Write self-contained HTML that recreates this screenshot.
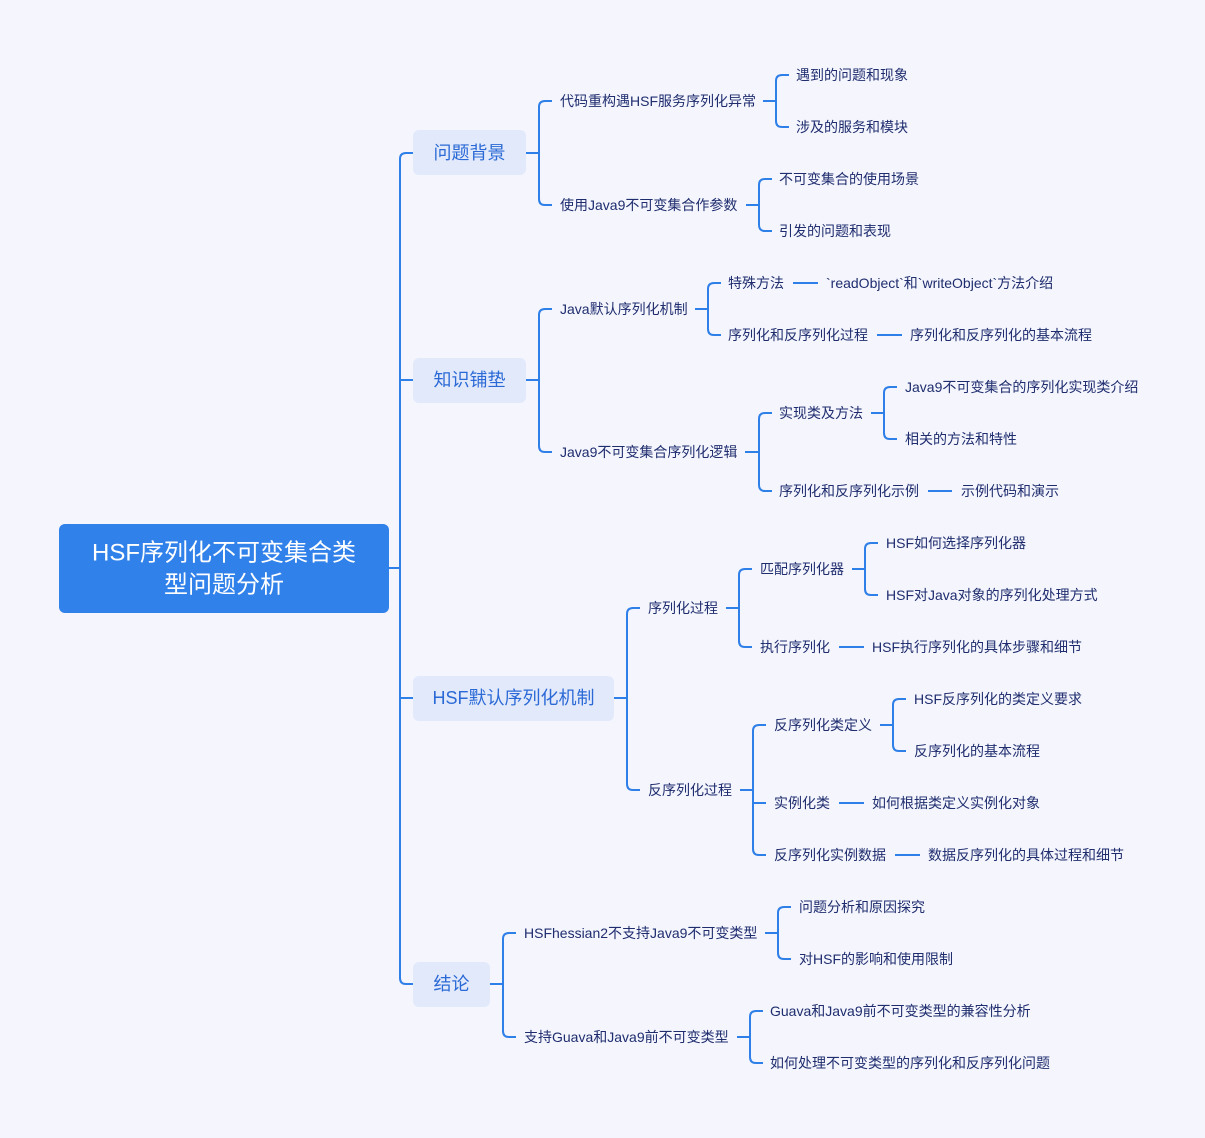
<!DOCTYPE html>
<html><head><meta charset="utf-8"><style>
html,body{margin:0;padding:0;background:#f4f5fd;}
svg{display:block;font-family:"Liberation Sans","Noto Sans CJK SC",sans-serif;}
.t{font-size:14px;fill:#1f2d6e;dominant-baseline:central;}
.l1{font-size:18px;fill:#2b6ad6;dominant-baseline:central;text-anchor:middle;}
path,line{stroke:#2f7fe8;stroke-width:2;fill:none;}
</style></head><body>
<svg width="1205" height="1138" viewBox="0 0 1205 1138">
<rect x="0" y="0" width="1205" height="1138" fill="#f4f5fd"/>
<!-- root -->
<rect x="59" y="524" width="330" height="89" rx="6" fill="#3181ea"/>
<text x="224" y="553" font-size="24" fill="#fff" text-anchor="middle" dominant-baseline="central">HSF序列化不可变集合类</text>
<text x="224" y="585" font-size="24" fill="#fff" text-anchor="middle" dominant-baseline="central">型问题分析</text>
<!-- trunk -->
<line x1="389" y1="568" x2="400" y2="568"/>
<path d="M413,153 H406 Q400,153 400,159 V978 Q400,984 406,984 H413"/>
<line x1="400" y1="380" x2="413" y2="380"/>
<line x1="400" y1="698" x2="413" y2="698"/>
<!-- level1 boxes -->
<rect x="413" y="130" width="113" height="45" rx="6" fill="#e2e9fb"/>
<text class="l1" x="469.5" y="153">问题背景</text>
<rect x="413" y="358" width="113" height="45" rx="6" fill="#e2e9fb"/>
<text class="l1" x="469.5" y="380">知识铺垫</text>
<rect x="413" y="676" width="201" height="45" rx="6" fill="#e2e9fb"/>
<text class="l1" x="513.5" y="698">HSF默认序列化机制</text>
<rect x="413" y="962" width="77" height="45" rx="6" fill="#e2e9fb"/>
<text class="l1" x="451.5" y="984">结论</text>

<!-- 问题背景 -->
<line x1="526" y1="153" x2="539" y2="153"/>
<path d="M552,101 H545 Q539,101 539,107 V199 Q539,205 545,205 H552"/>
<text class="t" x="560" y="101">代码重构遇HSF服务序列化异常</text>
<text class="t" x="560" y="205">使用Java9不可变集合作参数</text>
<line x1="763" y1="101" x2="776" y2="101"/>
<path d="M789,75 H782 Q776,75 776,81 V121 Q776,127 782,127 H789"/>
<text class="t" x="796" y="75">遇到的问题和现象</text>
<text class="t" x="796" y="127">涉及的服务和模块</text>
<line x1="746" y1="205" x2="759" y2="205"/>
<path d="M772,179 H765 Q759,179 759,185 V225 Q759,231 765,231 H772"/>
<text class="t" x="779" y="179">不可变集合的使用场景</text>
<text class="t" x="779" y="231">引发的问题和表现</text>

<!-- 知识铺垫 -->
<line x1="526" y1="380" x2="539" y2="380"/>
<path d="M552,309 H545 Q539,309 539,315 V446 Q539,452 545,452 H552"/>
<text class="t" x="560" y="309">Java默认序列化机制</text>
<text class="t" x="560" y="452">Java9不可变集合序列化逻辑</text>
<line x1="695" y1="309" x2="708" y2="309"/>
<path d="M721,283 H714 Q708,283 708,289 V329 Q708,335 714,335 H721"/>
<text class="t" x="728" y="283">特殊方法</text>
<text class="t" x="728" y="335">序列化和反序列化过程</text>
<line x1="793" y1="283" x2="818" y2="283"/>
<text class="t" x="826" y="283">`readObject`和`writeObject`方法介绍</text>
<line x1="877" y1="335" x2="902" y2="335"/>
<text class="t" x="910" y="335">序列化和反序列化的基本流程</text>
<line x1="745" y1="452" x2="759" y2="452"/>
<path d="M772,413 H765 Q759,413 759,419 V485 Q759,491 765,491 H772"/>
<text class="t" x="779" y="413">实现类及方法</text>
<text class="t" x="779" y="491">序列化和反序列化示例</text>
<line x1="871" y1="413" x2="884" y2="413"/>
<path d="M897,387 H890 Q884,387 884,393 V433 Q884,439 890,439 H897"/>
<text class="t" x="905" y="387">Java9不可变集合的序列化实现类介绍</text>
<text class="t" x="905" y="439">相关的方法和特性</text>
<line x1="928" y1="491" x2="952" y2="491"/>
<text class="t" x="961" y="491">示例代码和演示</text>

<!-- HSF默认序列化机制 -->
<line x1="614" y1="698" x2="627" y2="698"/>
<path d="M640,608 H633 Q627,608 627,614 V784 Q627,790 633,790 H640"/>
<text class="t" x="648" y="608">序列化过程</text>
<text class="t" x="648" y="790">反序列化过程</text>
<line x1="726" y1="608" x2="739" y2="608"/>
<path d="M752,569 H745 Q739,569 739,575 V641 Q739,647 745,647 H752"/>
<text class="t" x="760" y="569">匹配序列化器</text>
<text class="t" x="760" y="647">执行序列化</text>
<line x1="852" y1="569" x2="865" y2="569"/>
<path d="M878,543 H871 Q865,543 865,549 V589 Q865,595 871,595 H878"/>
<text class="t" x="886" y="543">HSF如何选择序列化器</text>
<text class="t" x="886" y="595">HSF对Java对象的序列化处理方式</text>
<line x1="839" y1="647" x2="864" y2="647"/>
<text class="t" x="872" y="647">HSF执行序列化的具体步骤和细节</text>
<line x1="740" y1="790" x2="753" y2="790"/>
<path d="M766,725 H759 Q753,725 753,731 V849 Q753,855 759,855 H766"/>
<line x1="753" y1="803" x2="766" y2="803"/>
<text class="t" x="774" y="725">反序列化类定义</text>
<text class="t" x="774" y="803">实例化类</text>
<text class="t" x="774" y="855">反序列化实例数据</text>
<line x1="880" y1="725" x2="893" y2="725"/>
<path d="M906,699 H899 Q893,699 893,705 V745 Q893,751 899,751 H906"/>
<text class="t" x="914" y="699">HSF反序列化的类定义要求</text>
<text class="t" x="914" y="751">反序列化的基本流程</text>
<line x1="839" y1="803" x2="864" y2="803"/>
<text class="t" x="872" y="803">如何根据类定义实例化对象</text>
<line x1="895" y1="855" x2="920" y2="855"/>
<text class="t" x="928" y="855">数据反序列化的具体过程和细节</text>

<!-- 结论 -->
<line x1="490" y1="984" x2="503" y2="984"/>
<path d="M516,933 H509 Q503,933 503,939 V1031 Q503,1037 509,1037 H516"/>
<text class="t" x="524" y="933">HSFhessian2不支持Java9不可变类型</text>
<text class="t" x="524" y="1037">支持Guava和Java9前不可变类型</text>
<line x1="765" y1="933" x2="778" y2="933"/>
<path d="M791,907 H784 Q778,907 778,913 V953 Q778,959 784,959 H791"/>
<text class="t" x="799" y="907">问题分析和原因探究</text>
<text class="t" x="799" y="959">对HSF的影响和使用限制</text>
<line x1="737" y1="1037" x2="750" y2="1037"/>
<path d="M763,1011 H756 Q750,1011 750,1017 V1057 Q750,1063 756,1063 H763"/>
<text class="t" x="770" y="1011">Guava和Java9前不可变类型的兼容性分析</text>
<text class="t" x="770" y="1063">如何处理不可变类型的序列化和反序列化问题</text>
</svg>
</body></html>
